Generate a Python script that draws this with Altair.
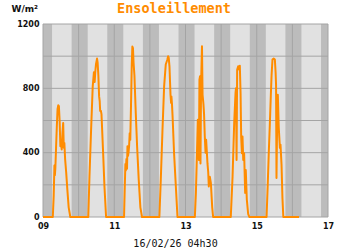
import altair as alt
import pandas as pd

# ---- data ----
days = [9, 10, 11, 12, 13, 14, 15, 16]
sunrise_h = 6.1
sunset_h = 19.3

d09_h = [0, 6.6, 7.2, 7.7, 8.0, 8.3, 8.8, 9.3, 9.8, 10.3, 10.7, 11.2, 11.7, 12.1, 12.6, 13.1, 13.6, 14.0, 14.4, 14.9, 15.6, 16.4, 17.3, 18.4]
d09_v = [0, 0, 130, 320, 260, 300, 430, 560, 670, 695, 690, 600, 440, 470, 420, 520, 585, 430, 460, 360, 280, 170, 60, 0]

d10_h = [6.5, 7.3, 8.4, 9.5, 10.3, 10.8, 11.2, 11.7, 12.4, 12.8, 13.3, 13.8, 14.2, 14.5, 15.0, 15.4, 16.5, 17.4, 18.5]
d10_v = [0, 250, 542, 812, 900, 840, 900, 950, 985, 960, 880, 750, 720, 660, 660, 640, 400, 190, 0]

d11_h = [6.6, 7.1, 7.5, 7.8, 8.2, 8.6, 8.9, 9.3, 9.6, 10.0, 10.4, 10.8, 11.3, 11.8, 12.2, 12.6, 13.0, 13.6, 14.5, 15.4, 16.5, 17.6, 18.7]
d11_v = [0, 190, 330, 290, 360, 300, 440, 380, 400, 440, 520, 480, 700, 950, 1060, 1050, 960, 880, 646, 438, 231, 60, 0]

d12_h = [6.4, 7.35, 8.5, 9.6, 10.7, 11.8, 12.3, 12.7, 13.2, 13.9, 14.3, 14.5, 14.9, 15.3, 16.3, 17.5, 18.6]
d12_v = [0, 231, 542, 812, 948, 979, 1000, 990, 937, 760, 710, 750, 700, 625, 396, 190, 0]

d13_h = [6.3, 7.0, 7.6, 8.3, 8.7, 9.0, 9.4, 9.8, 10.1, 10.5, 11.1, 11.5, 12.1, 12.5, 13.0, 13.5, 13.9, 14.4, 14.8, 15.3, 15.7, 16.4, 17.1, 18.0, 18.6]
d13_v = [0, 150, 355, 604, 450, 355, 854, 875, 333, 833, 1062, 760, 700, 640, 500, 400, 480, 400, 333, 280, 190, 250, 210, 60, 0]

d14_h = [6.5, 7.7, 8.8, 9.7, 10.0, 10.4, 10.8, 11.5, 12.2, 12.6, 13.1, 13.5, 14.0, 14.4, 14.9, 15.5, 16.2, 16.6, 17.3, 18.2, 19.0]
d14_v = [0, 250, 584, 771, 800, 355, 916, 937, 916, 940, 770, 500, 396, 500, 355, 396, 150, 293, 110, 20, 0]

d15_h = [6.6, 7.4, 8.1, 8.8, 9.5, 10.0, 10.6, 11.4, 12.2, 12.7, 13.0, 13.3, 13.8, 14.2, 14.8, 15.6, 16.0, 16.7, 17.3, 17.9]
d15_v = [0, 200, 400, 573, 760, 885, 979, 985, 979, 900, 823, 243, 636, 760, 560, 430, 450, 324, 120, 0]

d16_h = [0, 4.5]
d16_v = [0, 0]

x_grid = [9, 10, 11, 12, 13, 14, 15, 16, 17]
x_labels = [9, 11, 13, 15, 17]
y_grid = [0, 200, 400, 600, 800, 1000, 1200]
y_labels = [0, 400, 800, 1200]

# ---- tables ----
series = [(9, d09_h, d09_v), (10, d10_h, d10_v), (11, d11_h, d11_v), (12, d12_h, d12_v),
          (13, d13_h, d13_v), (14, d14_h, d14_v), (15, d15_h, d15_v), (16, d16_h, d16_v)]
rows = []
for d, hs, vs in series:
    for h, v in zip(hs, vs):
        rows.append({"t": d + h / 24.0, "v": v, "kind": "line"})
for d in x_grid:
    rows.append({"t": d, "v": None, "kind": "vgrid"})
for v in y_grid:
    rows.append({"t": None, "v": v, "kind": "hgrid"})
bands = [(9.0, 9 + sunrise_h / 24.0)]
for d in days:
    bands.append((d + sunset_h / 24.0, min(d + 1 + sunrise_h / 24.0, 17.0)))
for a, b in bands:
    rows.append({"t": a, "t2": b, "v": 0, "v2": 1200, "kind": "band"})
df = pd.DataFrame(rows)

xs = alt.Scale(domain=[9, 17], nice=False, zero=False)
ys = alt.Scale(domain=[0, 1200], nice=False)

W, H = 285, 193
GRID = "#a4a4a4"
INK = "#111111"

x_axis = alt.Axis(
    values=x_labels,
    labelExpr="datum.value < 10 ? '0' + datum.value : '' + datum.value",
    grid=False, ticks=False, domain=False, labelFlush=False,
    labelFont="DejaVu Sans", labelFontWeight="bold", labelFontSize=8,
    labelColor=INK, labelPadding=5,
    title="16/02/26 04h30", titleFont="DejaVu Sans Mono", titleFontSize=10,
    titleFontWeight="normal", titleColor=INK,
    titleX=132, titleY=26, titleAlign="center", titleBaseline="middle",
)
y_axis = alt.Axis(
    values=y_labels, format="d", grid=False, ticks=False, domain=False,
    labelFont="DejaVu Sans", labelFontWeight="bold", labelFontSize=8,
    labelColor=INK, labelPadding=4,
    title="W/m²", titleAngle=0, titleFont="DejaVu Sans", titleFontWeight="bold",
    titleFontSize=9, titleColor=INK,
    titleX=-32, titleY=-16, titleAlign="left", titleBaseline="middle",
)

base = alt.Chart(df)

bands_layer = base.transform_filter("datum.kind == 'band'").mark_rect(color="#bcbcbc").encode(
    x=alt.X("t:Q", scale=xs, axis=x_axis),
    x2="t2:Q",
    y=alt.Y("v:Q", scale=ys, axis=y_axis),
    y2="v2:Q",
)

vgrid = base.transform_filter("datum.kind == 'vgrid'").mark_rule(color=GRID, strokeWidth=1).encode(
    x=alt.X("t:Q", scale=xs, axis=x_axis)
)
hgrid = base.transform_filter("datum.kind == 'hgrid'").mark_rule(color=GRID, strokeWidth=1).encode(
    y=alt.Y("v:Q", scale=ys, axis=y_axis)
)

line = base.transform_filter("datum.kind == 'line'").mark_line(
    color="#ff8c00", strokeWidth=2, strokeJoin="round"
).encode(
    x=alt.X("t:Q", scale=xs, axis=x_axis),
    y=alt.Y("v:Q", scale=ys, axis=y_axis),
)

title_layer = alt.Chart(pd.DataFrame({"label": ["Ensoleillement"]})).mark_text(
    font="DejaVu Sans Mono", fontWeight="bold", fontSize=13.5, color="#ff8c00",
    align="center", baseline="middle",
).encode(text="label:N", x=alt.value(131), y=alt.value(-15))

chart = alt.layer(bands_layer, vgrid, hgrid, line, title_layer).properties(
    width=W, height=H,
    autosize=alt.AutoSizeParams(type="none"),
    padding={"left": 43, "top": 24, "right": 22, "bottom": 33},
    background="white",
).configure_view(fill="#e1e1e1", stroke=None)

chart.save("out.html", embed_options={"renderer": "svg", "actions": False})
